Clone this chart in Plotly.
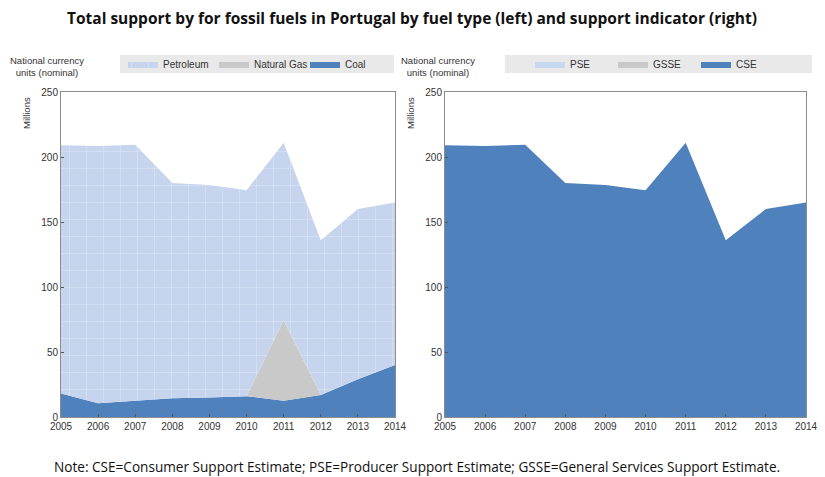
import plotly.graph_objects as go
from plotly.subplots import make_subplots

# --- data (millions, national currency) ---
years = [2005, 2006, 2007, 2008, 2009, 2010, 2011, 2012, 2013, 2014]
total = [209, 208.5, 209.5, 180, 178.5, 174.5, 211, 136, 160, 165]
coal = [18, 10.5, 12.5, 14.5, 15, 16, 12.5, 17, 29, 40]
natural_gas = [0, 0, 0, 0, 0, 0, 62, 0, 0, 0]
petroleum = [t - c - g for t, c, g in zip(total, coal, natural_gas)]

cse = total
pse = [0] * len(years)
gsse = [0] * len(years)

y_ticks = [0, 50, 100, 150, 200, 250]

C_PETRO = "#c7d4ee"
C_GAS = "#c9c9c9"
C_COAL = "#4f81bd"
C_PSE = "#c6d9f1"

# page body has an 8px margin, so the figure is laid out in screen px minus 8
OFF = 8
W, H = 825 - OFF, 477 - OFF
def px_x(p): return (p - OFF) / W
def px_y(p): return 1 - (p - OFF) / H

fig = make_subplots(rows=1, cols=2)

# left panel: by fuel type (stacked, coal at the bottom)
fig.add_trace(go.Scatter(x=years, y=coal, name="Coal", stackgroup="fuel",
                         mode="lines", line=dict(width=0, color=C_COAL),
                         fillcolor=C_COAL, legend="legend"), row=1, col=1)
fig.add_trace(go.Scatter(x=years, y=natural_gas, name="Natural Gas", stackgroup="fuel",
                         mode="lines", line=dict(width=0, color=C_GAS),
                         fillcolor=C_GAS, legend="legend"), row=1, col=1)
fig.add_trace(go.Scatter(x=years, y=petroleum, name="Petroleum", stackgroup="fuel",
                         mode="lines", line=dict(width=0, color=C_PETRO),
                         fillcolor=C_PETRO,
                         fillpattern=dict(shape="+", size=17, solidity=0.06,
                                          fgcolor="white", fgopacity=0.45, bgcolor=C_PETRO),
                         legend="legend"), row=1, col=1)

# right panel: by support indicator
fig.add_trace(go.Scatter(x=years, y=cse, name="CSE", stackgroup="ind",
                         mode="lines", line=dict(width=0, color=C_COAL),
                         fillcolor=C_COAL, legend="legend2"), row=1, col=2)
fig.add_trace(go.Scatter(x=years, y=gsse, name="GSSE", stackgroup="ind",
                         mode="lines", line=dict(width=0, color=C_GAS),
                         fillcolor=C_GAS, legend="legend2"), row=1, col=2)
fig.add_trace(go.Scatter(x=years, y=pse, name="PSE", stackgroup="ind",
                         mode="lines", line=dict(width=0, color=C_PSE),
                         fillcolor=C_PSE, legend="legend2"), row=1, col=2)

axis_font = dict(family="Liberation Sans, Arial", size=10, color="#333333")
xa = dict(range=[2005, 2014], tickvals=years, showgrid=False, zeroline=False,
          showline=True, mirror=True, linecolor="#8c8c8c", linewidth=1,
          ticks="inside", ticklen=3, tickcolor="#555555", tickfont=axis_font,
          automargin=False, ticklabeloverflow="allow")
ya = dict(range=[0, 250], tickvals=y_ticks, showgrid=False, zeroline=False,
          showline=True, mirror=True, linecolor="#8c8c8c", linewidth=1,
          ticks="inside", ticklen=3, tickcolor="#555555", tickfont=axis_font,
          automargin=False)

y_dom = [px_y(417), px_y(92)]
fig.update_xaxes(**xa)
fig.update_yaxes(**ya)
fig.update_layout(
    xaxis=dict(domain=[px_x(61), px_x(395)]),
    xaxis2=dict(domain=[px_x(445), px_x(806)]),
    yaxis=dict(domain=y_dom),
    yaxis2=dict(domain=y_dom),
)

leg_common = dict(orientation="h", bgcolor="rgba(0,0,0,0)", traceorder="reversed",
                  font=dict(family="Liberation Sans, Arial", size=10, color="#333333"),
                  itemwidth=30, entrywidthmode="pixels", yanchor="middle",
                  xanchor="left", itemclick=False)
fig.update_layout(
    legend=dict(x=px_x(123), y=px_y(64), entrywidth=46, **leg_common),
    legend2=dict(x=px_x(530), y=px_y(64), entrywidth=38, **leg_common),
)

# legend background bars
shapes = []
for x0, x1 in [(120, 394), (505, 812)]:
    shapes.append(dict(type="rect", xref="paper", yref="paper",
                       x0=px_x(x0), x1=px_x(x1), y0=px_y(73), y1=px_y(55),
                       fillcolor="#e9e9e9", line=dict(width=0), layer="below"))

small = dict(family="Liberation Sans, Arial", size=9.5, color="#333333")
ann = []
for cx, mx in [(47, 27), (438, 411)]:
    ann.append(dict(x=px_x(cx), y=px_y(67), xref="paper", yref="paper",
                    text="National currency<br>units (nominal)", showarrow=False,
                    font=small, align="center", xanchor="center", yanchor="middle"))
    ann.append(dict(x=px_x(mx), y=px_y(113), xref="paper", yref="paper",
                    text="Millions", textangle=-90, showarrow=False,
                    font=small, xanchor="center", yanchor="middle"))

ann.append(dict(x=px_x(412), y=px_y(18), xref="paper", yref="paper",
                text="<b>Total support by for fossil fuels in Portugal by fuel type (left) and support indicator (right)</b>",
                showarrow=False, xanchor="center", yanchor="middle",
                font=dict(family="Open Sans", size=15.5, color="#111111")))
ann.append(dict(x=px_x(52), y=px_y(466), xref="paper", yref="paper",
                text="Note: CSE=Consumer Support Estimate; PSE=Producer Support Estimate; GSSE=General Services Support Estimate.",
                showarrow=False, xanchor="left", yanchor="middle",
                font=dict(family="Open Sans", size=13.6, color="#111111")))

fig.update_layout(
    width=W, height=H,
    margin=dict(l=0, r=0, t=0, b=0),
    paper_bgcolor="white", plot_bgcolor="white",
    shapes=shapes, annotations=ann,
    hovermode="x",
)

fig.write_html("out.html")
